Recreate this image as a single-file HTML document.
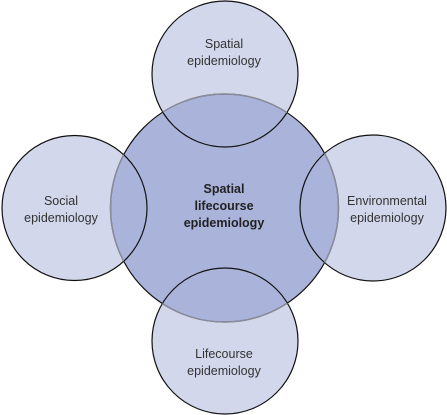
<!DOCTYPE html>
<html><head><style>html,body{margin:0;padding:0;background:#fff}svg{display:block}</style></head>
<body>
<svg width="447" height="415" viewBox="0 0 447 415" xmlns="http://www.w3.org/2000/svg" font-family="Liberation Sans, sans-serif">
<defs>
<clipPath id="sm">
<circle cx="225" cy="74" r="73"/><circle cx="74.5" cy="208" r="72.5"/><circle cx="373" cy="208" r="73"/><circle cx="225" cy="341" r="73"/>
</clipPath>
</defs>
<g fill="#d3d7ec">
<circle cx="225" cy="74" r="73"/><circle cx="74.5" cy="208" r="72.5"/><circle cx="373" cy="208" r="73"/><circle cx="225" cy="341" r="73"/>
</g>
<circle cx="224.5" cy="208" r="114" fill="#aab4db" stroke="#111" stroke-width="1.2"/>
<g fill="none" stroke="#111" stroke-width="1.2">
<circle cx="225" cy="74" r="73"/><circle cx="74.5" cy="208" r="72.5"/><circle cx="373" cy="208" r="73"/><circle cx="225" cy="341" r="73"/>
</g>
<circle cx="224.5" cy="208" r="114" fill="none" stroke="#8a8d99" stroke-width="1.4" clip-path="url(#sm)"/>
<g font-size="12.5" fill="#333" text-anchor="middle">
<text x="224" y="48">Spatial</text><text x="224" y="65">epidemiology</text>
<text x="61" y="205">Social</text><text x="61" y="222">epidemiology</text>
<text x="387" y="205">Environmental</text><text x="387" y="222">epidemiology</text>
<text x="224" y="358">Lifecourse</text><text x="224" y="375">epidemiology</text>
</g>
<g font-size="12.5" font-weight="bold" fill="#222" text-anchor="middle">
<text x="224" y="193">Spatial</text><text x="224" y="210">lifecourse</text><text x="224" y="227">epidemiology</text>
</g>
</svg>
</body></html>
